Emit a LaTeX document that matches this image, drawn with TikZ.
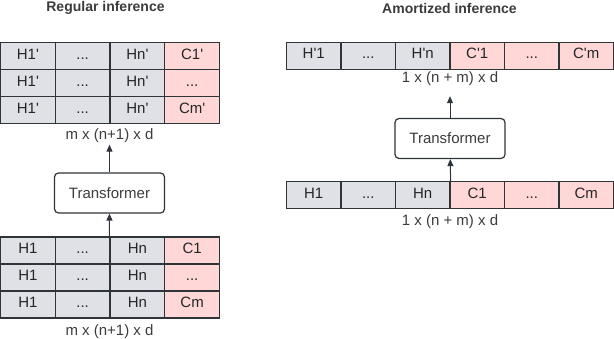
\documentclass[tikz,border=0pt]{standalone}
\usepackage{fontspec}
\setmainfont{Liberation Sans}
\usetikzlibrary{arrows.meta}
\definecolor{hcell}{HTML}{DFE1E6}
\definecolor{ccell}{HTML}{FFD7D7}
\definecolor{edge}{HTML}{2F3439}
\definecolor{txt}{HTML}{3C3C3C}
\newcommand{\q}{\textquotesingle}

\begin{document}
\begin{tikzpicture}[x=1pt,y=-1pt,
  hbox/.style={draw=edge,line width=1.2pt,fill=hcell,minimum width=54.75pt,minimum height=27pt,inner sep=0pt,text height=10.7pt,text depth=4.7pt,text=black!85,font=\fontsize{15}{18}\selectfont},
  cbox/.style={hbox,fill=ccell},
  tfbox/.style={draw=edge,line width=1.2pt,fill=white,rounded corners=4pt,minimum width=110pt,minimum height=40pt,text=txt,font=\fontsize{15}{18}\selectfont},
  dimlabel/.style={inner sep=1.5pt,text=txt,font=\fontsize{15}{18}\selectfont},
  title/.style={text=txt,font=\bfseries\fontsize{14}{16}\selectfont},
  arr/.style={draw=edge,line width=1pt,-{Triangle[length=7pt,width=6pt]}}]
\path[use as bounding box] (0,0) rectangle (614,338);

% regular inference
\node[title] (lt) at (105.5,8) {Regular inference};
\node[hbox] (lo11) at (27.9,56) {H1\q};
\node[hbox] (lo12) at (82.6,56) {...};
\node[hbox] (lo13) at (137.4,56) {Hn\q};
\node[cbox] (lo14) at (192.1,56) {C1\q};
\node[hbox] (lo21) at (27.9,83) {H1\q};
\node[hbox] (lo22) at (82.6,83) {...};
\node[hbox] (lo23) at (137.4,83) {Hn\q};
\node[cbox] (lo24) at (192.1,83) {...};
\node[hbox] (lo31) at (27.9,110) {H1\q};
\node[hbox] (lo32) at (82.6,110) {...};
\node[hbox] (lo33) at (137.4,110) {Hn\q};
\node[cbox] (lo34) at (192.1,110) {Cm\q};
\node[dimlabel] (lol) at (109.5,136) {m x (n+1) x d};
\node[tfbox] (ltf) at (109.5,193) {Transformer};
\node[hbox] (li11) at (27.9,250.5) {H1};
\node[hbox] (li12) at (82.6,250.5) {...};
\node[hbox] (li13) at (137.4,250.5) {Hn};
\node[cbox] (li14) at (192.1,250.5) {C1};
\node[hbox] (li21) at (27.9,277.5) {H1};
\node[hbox] (li22) at (82.6,277.5) {...};
\node[hbox] (li23) at (137.4,277.5) {Hn};
\node[cbox] (li24) at (192.1,277.5) {...};
\node[hbox] (li31) at (27.9,304.5) {H1};
\node[hbox] (li32) at (82.6,304.5) {...};
\node[hbox] (li33) at (137.4,304.5) {Hn};
\node[cbox] (li34) at (192.1,304.5) {Cm};
\node[dimlabel] (lil) at (109.5,332) {m x (n+1) x d};
\draw[arr] (li13.north west) -- (ltf);
\draw[arr] (ltf) -- (lol);

% amortized inference
\node[title] (rt) at (449.5,8) {Amortized inference};
\node[hbox,minimum width=54.5pt] (ro1) at (313.75,55.7) {H\q 1};
\node[hbox,minimum width=54.5pt] (ro2) at (368.25,55.7) {...};
\node[hbox,minimum width=54.5pt] (ro3) at (422.75,55.7) {H\q n};
\node[cbox,minimum width=54.5pt] (ro4) at (477.25,55.7) {C\q 1};
\node[cbox,minimum width=54.5pt] (ro5) at (531.75,55.7) {...};
\node[cbox,minimum width=54.5pt] (ro6) at (586.25,55.7) {C\q m};
\node[dimlabel] (rol) at (450,79) {1 x (n + m) x d};
\node[tfbox] (rtf) at (450,138.5) {Transformer};
\node[hbox,minimum width=54.5pt] (ri1) at (313.75,195) {H1};
\node[hbox,minimum width=54.5pt] (ri2) at (368.25,195) {...};
\node[hbox,minimum width=54.5pt] (ri3) at (422.75,195) {Hn};
\node[cbox,minimum width=54.5pt] (ri4) at (477.25,195) {C1};
\node[cbox,minimum width=54.5pt] (ri5) at (531.75,195) {...};
\node[cbox,minimum width=54.5pt] (ri6) at (586.25,195) {Cm};
\node[dimlabel] (ril) at (450,222) {1 x (n + m) x d};
\draw[arr] (ri3.north east) -- (rtf);
\draw[arr,shorten >=8.5pt] (rtf) -- (rol);
\end{tikzpicture}
\end{document}
